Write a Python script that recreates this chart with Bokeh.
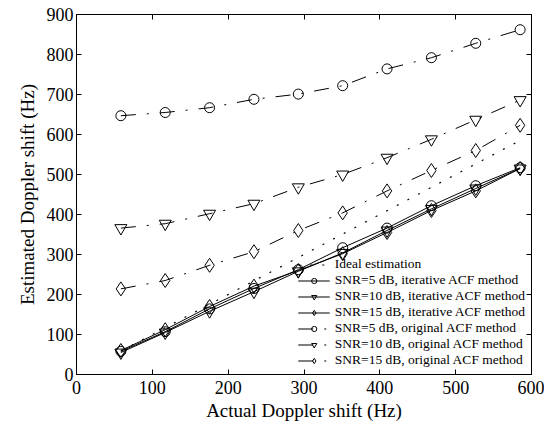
from bokeh.plotting import figure
from bokeh.models import LinearAxis, Legend, LegendItem, FixedTicker, Range1d
from bokeh.embed import file_html
from bokeh.resources import INLINE

# Data
actual = [58.5, 117, 175.5, 234, 292.5, 351, 409.5, 468, 526.5, 585]
ideal = [58.5, 117, 175.5, 234, 292.5, 351, 409.5, 468, 526.5, 585]
iter_snr5 = [58, 107, 164, 215, 262, 317, 366, 422, 472, 517]
iter_snr10 = [55, 105, 158, 207, 258, 304, 360, 414, 465, 515]
iter_snr15 = [60, 112, 170, 221, 260, 302, 355, 410, 459, 515]
orig_snr5 = [647, 655, 667, 688, 701, 722, 764, 792, 828, 862]
orig_snr10 = [366, 377, 402, 427, 468, 500, 542, 588, 637, 686]
orig_snr15 = [214, 235, 273, 307, 360, 404, 459, 510, 560, 623]
xticks = [0, 100, 200, 300, 400, 500, 600]
yticks = [0, 100, 200, 300, 400, 500, 600, 700, 800, 900]

FONT = "Liberation Serif"

p = figure(width=544, height=427, output_backend="svg", toolbar_location=None,
           x_range=Range1d(0, 600), y_range=Range1d(0, 900),
           min_border_left=76, min_border_right=13, min_border_top=14, min_border_bottom=53)
p.grid.visible = False
p.outline_line_color = "black"
p.outline_line_width = 1
p.background_fill_color = "white"
p.border_fill_color = "white"

for ax in (p.xaxis[0], p.yaxis[0]):
    ax.major_tick_in = 5
    ax.major_tick_out = 0
    ax.minor_tick_in = 0
    ax.minor_tick_out = 0
    ax.axis_line_color = "black"
    ax.major_tick_line_color = "black"
    ax.major_label_text_font = FONT
    ax.major_label_text_font_size = "18px"
    ax.major_label_text_color = "black"
    ax.axis_label_text_font = FONT
    ax.axis_label_text_font_size = "19px"
    ax.axis_label_text_font_style = "normal"
    ax.axis_label_text_color = "black"
p.xaxis[0].ticker = FixedTicker(ticks=xticks)
p.yaxis[0].ticker = FixedTicker(ticks=yticks)
p.xaxis[0].axis_label = "Actual Doppler shift (Hz)"
p.yaxis[0].axis_label = "Estimated Doppler shift (Hz)"
p.xaxis[0].major_label_standoff = 6
p.yaxis[0].major_label_standoff = 3
p.xaxis[0].axis_label_standoff = 3
p.yaxis[0].axis_label_standoff = 6

for loc, ticks in (("right", yticks), ("above", xticks)):
    a = LinearAxis(ticker=FixedTicker(ticks=ticks), major_label_text_font_size="0px",
                   major_tick_in=5, major_tick_out=0, minor_tick_in=0, minor_tick_out=0,
                   axis_line_color="black", major_tick_line_color="black")
    a.major_label_text_alpha = 0
    p.add_layout(a, loc)

items = []
r = p.line(actual, ideal, line_color="black", line_dash="2 10", line_width=1.2)
items.append(LegendItem(label="Ideal estimation", renderers=[r]))

DASHDOT = "15 11 2 11"
series = [
    (iter_snr5, "circle", 10, "solid", "SNR=5 dB, iterative ACF method"),
    (iter_snr10, "inverted_triangle", 12, "solid", "SNR=10 dB, iterative ACF method"),
    (iter_snr15, "diamond", 14, "solid", "SNR=15 dB, iterative ACF method"),
    (orig_snr5, "circle", 10, DASHDOT, "SNR=5 dB, original ACF method"),
    (orig_snr10, "inverted_triangle", 12, DASHDOT, "SNR=10 dB, original ACF method"),
    (orig_snr15, "diamond", 14, DASHDOT, "SNR=15 dB, original ACF method"),
]
for ys, marker, size, dash, label in series:
    l = p.line(actual, ys, line_color="black", line_width=1, line_dash=dash)
    s = p.scatter(actual, ys, marker=marker, size=size, fill_color=None,
                  line_color="black", line_width=1)
    items.append(LegendItem(label=label, renderers=[l, s]))

legend = Legend(items=items, location="bottom_right")
legend.label_text_font = FONT
legend.label_text_font_size = "13.5px"
legend.label_text_color = "black"
legend.label_height = 13
legend.label_standoff = 5
legend.glyph_height = 13
legend.glyph_width = 32
legend.spacing = 0
legend.padding = 3
legend.margin = 3
legend.border_line_alpha = 0
legend.background_fill_alpha = 0
p.add_layout(legend)

open("out.html", "w").write(file_html(p, INLINE))
